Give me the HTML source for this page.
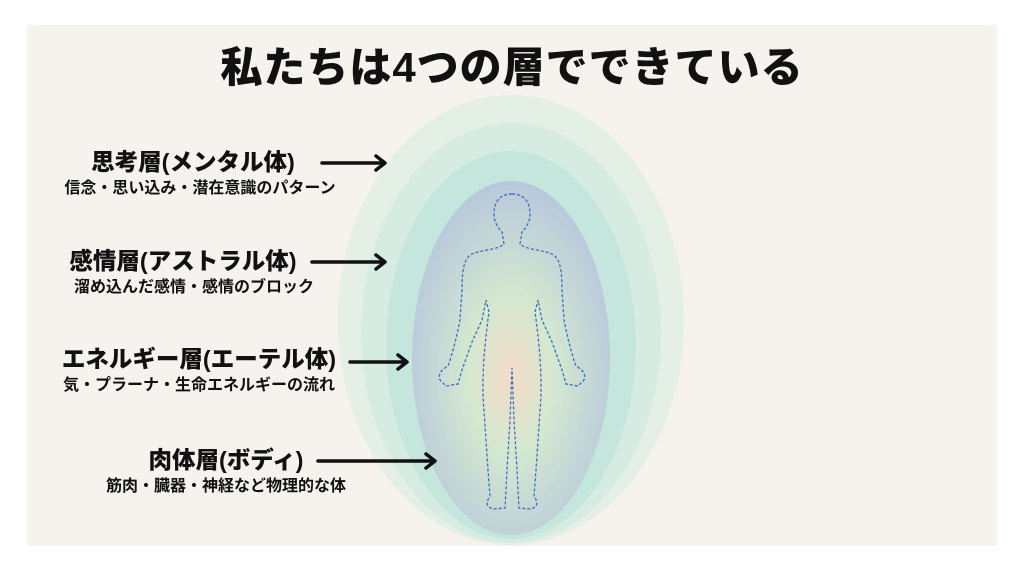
<!DOCTYPE html>
<html><head><meta charset="utf-8"><style>
body{margin:0;width:1024px;height:573px;background:#fff;position:relative;overflow:hidden;font-family:"Liberation Sans","Noto Sans CJK JP",sans-serif;color:#111}
.panel{position:absolute;left:27px;top:25px;width:970px;height:521px;background:#f6f2ed}
.t{position:absolute;left:0;width:1024px;top:34px;text-align:center;font-size:42px;font-weight:900;letter-spacing:1px}
.lb{position:absolute;width:400px;text-align:center;font-weight:700;white-space:nowrap}
.lb b{display:block;font-size:23.5px;line-height:28px}
.lb span{display:block;font-size:16px;line-height:20px;margin-top:3px}
</style></head><body>
<div class="panel"></div>
<svg style="position:absolute;left:0;top:0" width="1024" height="573">
<defs>
<radialGradient id="g" cx="50%" cy="55%" r="55%"><stop offset="0" stop-color="#f3dcc8"/><stop offset="0.4" stop-color="#d4e8d0"/><stop offset="1" stop-color="#b8c8dc"/></radialGradient>
</defs>
<ellipse cx="511" cy="320" rx="173" ry="225" fill="#e2eee4" opacity="0.9"/>
<ellipse cx="511" cy="333" rx="150" ry="210" fill="#d6ece2"/>
<ellipse cx="511" cy="345" rx="125" ry="194" fill="#c4e6dc"/>
<ellipse cx="511" cy="358" rx="99" ry="177" fill="url(#g)"/>
<path d="M512 194 C498 194 494 204 494 214 C494 222 498 228 502 232 L504 244 C498 250 480 250 472 254 C464 258 462 270 462 290 L460 320 C456 340 452 355 448 366 C441 370 438 374 440 380 L446 386 L458 384 L462 370 L472 342 L482 320 L486 300 L489 312 C485 340 481 380 484 410 L488 470 L490 496 C486 502 485 508 495 509 L505 508 L507 470 L510 420 L512 368 L514 420 L517 470 L519 508 L529 509 C539 508 538 502 534 496 L536 470 L540 410 C543 380 539 340 535 312 L538 300 L542 320 L552 342 L562 370 L566 384 L578 386 L584 380 C586 374 583 370 576 366 C572 355 568 340 564 320 L562 290 C562 270 560 258 552 254 C544 250 526 250 520 244 L522 232 C526 228 530 222 530 214 C530 204 526 194 512 194 Z" fill="none" stroke="#3a6cc4" stroke-width="1.3" stroke-dasharray="3 2"/>
<g stroke="#111" stroke-width="3.5" fill="none" stroke-linecap="round" stroke-linejoin="round">
<line x1="322" y1="163" x2="384" y2="163"/><path d="M376 156 L385 163 L376 170"/>
<line x1="312" y1="262" x2="384" y2="262"/><path d="M376 255 L385 262 L376 269"/>
<line x1="350" y1="362" x2="406" y2="362"/><path d="M398 355 L407 362 L398 369"/>
<line x1="318" y1="461" x2="434" y2="461"/><path d="M426 454 L435 461 L426 468"/>
</g>
</svg>
<div class="t">私たちは4つの層でできている</div>
<div class="lb" style="left:0px;top:148px"><b style="margin-left:-14px">思考層(メンタル体)</b><span>信念・思い込み・潜在意識のパターン</span></div>
<div class="lb" style="left:-6px;top:247px"><b style="margin-left:-22px">感情層(アストラル体)</b><span>溜め込んだ感情・感情のブロック</span></div>
<div class="lb" style="left:-1px;top:345px"><b>エネルギー層(エーテル体)</b><span>気・プラーナ・生命エネルギーの流れ</span></div>
<div class="lb" style="left:26px;top:446px"><b>肉体層(ボディ)</b><span>筋肉・臓器・神経など物理的な体</span></div>
</body></html>
